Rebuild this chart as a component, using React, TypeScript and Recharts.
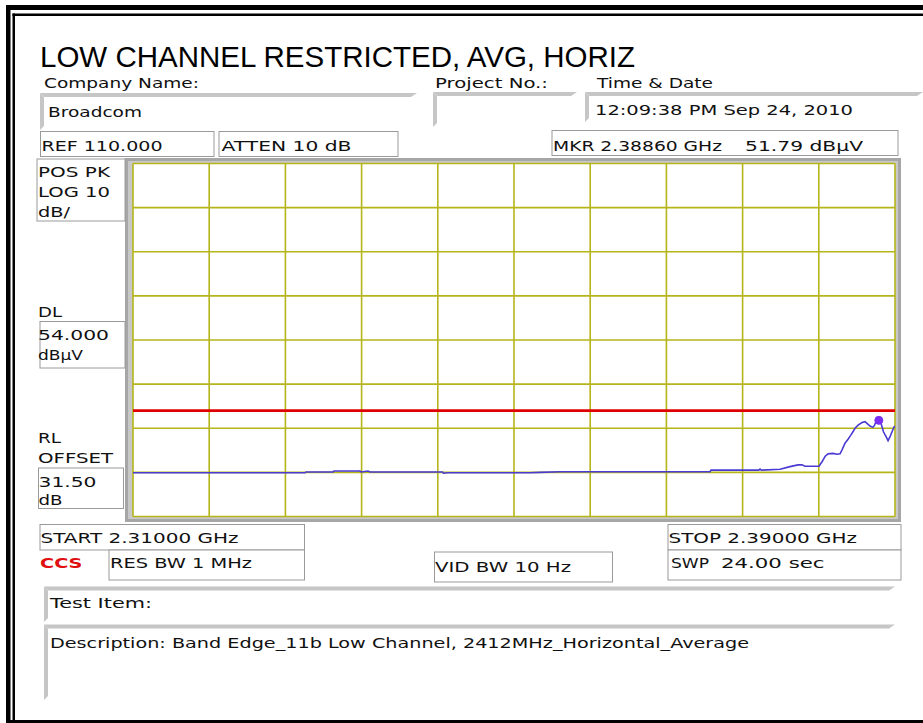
import React from 'react';
import { LineChart, Line, XAxis, YAxis, CartesianGrid, ReferenceLine, ReferenceDot } from 'recharts';

// ---- data ----
const FREQS_GHZ = [
  2.31, 2.32806, 2.32816, 2.331, 2.3311, 2.33383, 2.33394, 2.33467, 2.33488, 2.3425, 2.3426, 2.34307,
  2.35168, 2.35273, 2.35483, 2.37058, 2.37068, 2.3757, 2.37583, 2.37596, 2.37793, 2.37898, 2.37982,
  2.38024, 2.38055, 2.38202, 2.38234, 2.38265, 2.38297, 2.38349, 2.38391, 2.38423, 2.38444, 2.38475,
  2.38507, 2.38538, 2.38559, 2.3858, 2.38612, 2.38654, 2.38685, 2.38706, 2.38738, 2.38769, 2.38785,
  2.38801, 2.38822, 2.38853, 2.38863, 2.38879, 2.38906, 2.38927, 2.38948, 2.38969, 2.3899, 2.39,
];
const LEVELS_DBUV = [
  39.9, 39.9, 40.1, 40.1, 40.3, 40.3, 40.1, 40.3, 40.1, 40.1, 39.8, 39.9,
  39.9, 40.0, 40.15, 40.15, 40.5, 40.5, 40.75, 40.5, 40.7, 41.3, 41.7,
  41.7, 41.4, 41.4, 42.4, 43.6, 44.2, 44.3, 44.1, 44.2, 45.1, 46.6,
  47.5, 48.5, 49.2, 50.0, 50.7, 51.3, 51.5, 51.1, 50.5, 50.2, 50.7,
  51.5, 51.8, 51.1, 50.4, 49.2, 48.1, 47.2, 48.1, 49.2, 50.3, 50.5,
];
const FREQ_TICKS = [2.318, 2.326, 2.334, 2.342, 2.35, 2.358, 2.366, 2.374, 2.382];
const LEVEL_TICKS = [40, 50, 60, 70, 80, 90, 100];
const FREQ_DOMAIN = [2.31, 2.39];
const LEVEL_DOMAIN = [30, 110];
const DISPLAY_LINE = 54;
const MARKER = { f: 2.3883, v: 51.79 };

const TRACE = FREQS_GHZ.map((f, i) => ({ f, v: LEVELS_DBUV[i] }));

const FONT = '"DejaVu Sans", Verdana, sans-serif';

function T(props: { x: number; y: number; w: number; children: React.ReactNode; size?: number; fill?: string; weight?: number | string; family?: string }) {
  const { x, y, w, children, size = 14.5, fill = '#111', weight = 400, family = FONT } = props;
  return (
    <text x={x} y={y} textLength={w} lengthAdjust="spacingAndGlyphs" fontSize={size} fill={fill} fontWeight={weight} fontFamily={family}>
      {children}
    </text>
  );
}

function Box({ x1, y1, x2, y2 }: { x1: number; y1: number; x2: number; y2: number }) {
  return <rect x={x1} y={y1} width={x2 - x1} height={y2 - y1} fill="#fff" stroke="#9a9a9a" strokeWidth={1} />;
}

function Field({ x1, x2, y, y2 }: { x1: number; x2: number; y: number; y2: number }) {
  return (
    <g fill="#c6c6c6">
      <polygon points={`${x1},${y} ${x2},${y} ${x2 - 6},${y + 4} ${x1 + 4},${y + 4}`} />
      <polygon points={`${x1},${y} ${x1 + 4},${y + 4} ${x1 + 4},${y2 - 4} ${x1},${y2}`} />
    </g>
  );
}

export default function App() {
  return (
    <div style={{ position: 'absolute', left: 0, top: 0, width: 923, height: 723, background: '#fff', overflow: 'hidden' }}>
      <svg width={923} height={723} style={{ position: 'absolute', left: 0, top: 0 }}>
        {/* outer frame */}
        <rect x={6} y={5} width={917} height={5} fill="#000" />
        <rect x={6} y={5} width={4.5} height={718} fill="#000" />
        <rect x={12.5} y={13.5} width={911} height={2.5} fill="#000" />
        <rect x={12.5} y={13.5} width={2.5} height={710} fill="#000" />
        <rect x={6} y={720} width={917} height={3} fill="#000" />

        {/* title */}
        <T x={40} y={66.5} w={595} size={30} fill="#000" family='"Liberation Sans", Arial, sans-serif'>LOW CHANNEL RESTRICTED, AVG, HORIZ</T>

        {/* header fields */}
        <T x={44} y={88} w={155}>Company Name:</T>
        <Field x1={40} x2={417} y={93} y2={130} />
        <T x={48} y={117} w={94}>Broadcom</T>
        <T x={435} y={88} w={113}>Project No.:</T>
        <Field x1={433} x2={577} y={92} y2={127} />
        <T x={597} y={88} w={116}>Time &amp; Date</T>
        <Field x1={585} x2={923} y={92} y2={122} />
        <T x={595} y={115} w={258}>12:09:38 PM Sep 24, 2010</T>

        {/* parameter boxes */}
        <Box x1={40.5} y1={131.5} x2={214} y2={156.5} />
        <T x={41.5} y={150.5} w={121}>REF 110.000</T>
        <Box x1={219} y1={131.5} x2={398} y2={156.5} />
        <T x={221.5} y={150.5} w={130}>ATTEN 10 dB</T>
        <Box x1={552} y1={130.5} x2={898} y2={155.5} />
        <T x={553} y={150.5} w={169}>MKR 2.38860 GHz</T>
        <T x={745} y={150.5} w={118}>51.79 dBµV</T>

        {/* plot frame */}
        <rect x={125} y={158} width={776} height={364} fill="#a6a6a6" />
        <rect x={128} y={161} width={770} height={358} fill="#c8c8c8" />
        <rect x={133} y={163.5} width={762} height={353} fill="#fff" />

        {/* left labels */}
        <Box x1={37} y1={159} x2={125} y2={221} />
        <T x={38} y={176.7} w={72}>POS PK</T>
        <T x={38} y={196.7} w={72}>LOG 10</T>
        <T x={38} y={216.7} w={32}>dB/</T>
        <T x={38} y={316.7} w={24}>DL</T>
        <Box x1={40} y1={321.5} x2={125} y2={368} />
        <T x={38} y={340} w={71}>54.000</T>
        <T x={38} y={360} w={45}>dBµV</T>
        <T x={38} y={443.3} w={23}>RL</T>
        <T x={38} y={463.3} w={75}>OFFSET</T>
        <Box x1={38.5} y1={468} x2={123.5} y2={508.5} />
        <T x={38.5} y={486.7} w={58}>31.50</T>
        <T x={38.5} y={505} w={24}>dB</T>

        {/* bottom boxes */}
        <Box x1={40} y1={524.5} x2={304.5} y2={550} />
        <T x={40.5} y={543.3} w={198}>START 2.31000 GHz</T>
        <Box x1={109} y1={550} x2={304.5} y2={580} />
        <T x={40} y={568.3} w={42.5} fill="#e01010" weight={700}>CCS</T>
        <T x={110} y={568.3} w={142}>RES BW 1 MHz</T>
        <Box x1={434.5} y1={552} x2={612.5} y2={582} />
        <T x={435} y={571.7} w={136}>VID BW 10 Hz</T>
        <Box x1={668} y1={524.5} x2={901} y2={550} />
        <T x={668.5} y={543.3} w={188.5}>STOP 2.39000 GHz</T>
        <Box x1={668} y1={550} x2={901} y2={580} />
        <T x={671} y={568.3} w={38}>SWP</T>
        <T x={721} y={568.3} w={103.5}>24.00 sec</T>

        <Field x1={44} x2={895} y={586.5} y2={622} />
        <T x={50} y={608.3} w={102}>Test Item:</T>
        <Field x1={44} x2={895} y={624.5} y2={700} />
        <T x={50} y={648.3} w={699}>Description: Band Edge_11b Low Channel, 2412MHz_Horizontal_Average</T>
      </svg>

      <div style={{ position: 'absolute', left: 0, top: 0 }}>
        <LineChart
          width={923}
          height={723}
          data={TRACE}
          margin={{ top: 163.5, left: 133, right: 28, bottom: 206.5 }}
        >
          <XAxis dataKey="f" type="number" domain={FREQ_DOMAIN} ticks={FREQ_TICKS} hide allowDataOverflow />
          <YAxis type="number" domain={LEVEL_DOMAIN} ticks={LEVEL_TICKS} hide allowDataOverflow />
          <CartesianGrid stroke="#b5b51a" strokeWidth={1.6} />
          <ReferenceLine y={DISPLAY_LINE} stroke="#e00000" strokeWidth={2.6} />
          <Line dataKey="v" type="linear" stroke="#4a3bd2" strokeWidth={1.6} dot={false} isAnimationActive={false} />
          <ReferenceDot x={MARKER.f} y={MARKER.v} r={4} fill="#7a2ef0" stroke="#7a2ef0" />
        </LineChart>
      </div>
    </div>
  );
}
